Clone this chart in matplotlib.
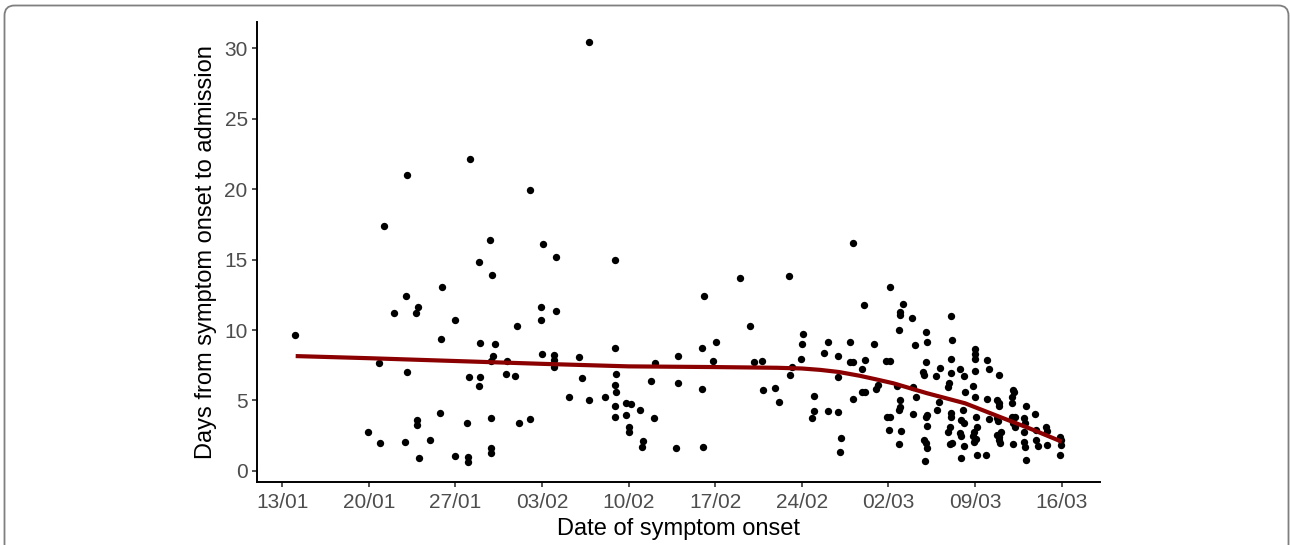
import matplotlib
matplotlib.use('Agg')
import matplotlib.pyplot as plt
from matplotlib.patches import FancyBboxPatch

plt.rcParams['font.family'] = ['Liberation Sans', 'DejaVu Sans']

# days since 13/01 (jittered onset) and days from onset to admission
onset_day = [
    24.8, 10.1, 15.2, 20.0, 8.2, 16.8, 21.1, 22.1, 15.9, 17.0, 26.9,
    1.08, 12.96, 10.02, 9.03, 11.02, 10.86, 14.0, 12.85, 16.0, 17.2, 17.08,
    16.9, 18.16, 19.02, 20.94, 20.94, 22.13, 20.97, 21.96, 21.96, 22.0, 23.97,
    24.2, 26.9, 27.0, 26.9, 27.0, 26.9, 26.9, 27.8, 28.2, 27.8, 28.0, 28.0,
    26.1, 24.84, 23.18, 7.81, 10.12, 15.09, 16.0, 15.9, 18.1, 18.8, 6.93,
    7.9, 9.92, 10.9, 10.94, 11.08, 11.97, 12.8, 13.96, 14.93, 15.0, 15.0,
    16.92, 16.92, 16.92, 19.16, 20.07,
    46.16, 37.0, 40.93,
    34.12, 31.98, 33.9, 35.03, 30.1, 34.84, 29.8, 31.96, 33.95, 28.92, 30.07,
    29.13, 29.08, 31.82, 34.03, 38.15, 38.82, 37.8, 38.9, 39.82, 40.14, 41.08,
    41.17, 41.95, 42.1, 42.05, 43.0, 42.97, 42.81, 43.83, 44.15, 44.96, 44.96,
    44.1, 44.93, 45.13, 45.1, 45.88, 45.88, 46.15, 46.15,
    49.16, 47.0, 50.18, 49.9, 49.9, 50.94, 54.03, 49.86, 52.07, 52.15, 51.15,
    54.14, 47.87, 47.09, 46.9, 48.84, 49.16, 52.07, 54.09, 53.15, 51.8, 51.9,
    52.82, 54.76, 55.11, 54.09, 53.9, 53.8, 46.9, 47.1, 48.16, 48.03, 49.7,
    50.99, 51.2, 49.9, 49.9, 49.84, 48.9, 49.16, 49.05, 50.05, 49.86, 50.99,
    52.0, 52.15, 52.15, 51.9, 52.07, 52.15, 51.96, 53.07, 52.93, 54.09, 54.09,
    55.03, 54.9, 55.08, 53.95, 53.8, 54.76, 54.9, 53.95, 54.17, 55.11, 54.9,
    55.16,
    55.97, 55.97, 55.97, 57.0, 57.1, 55.97, 57.91, 55.84, 55.97, 57.0, 59.07,
    59.15, 59.0, 58.95, 57.8, 57.97, 57.94, 60.15, 60.88, 56.1, 56.16, 57.13,
    57.8, 57.86, 59.0, 59.2, 59.2, 59.1, 59.95, 60.0, 59.95, 60.96, 60.96,
    61.77, 61.85, 61.09, 61.85, 62.9, 62.97, 62.92, 62.84, 60.09, 55.9, 55.84,
    55.9, 56.1, 56.2, 56.9, 57.8, 57.9, 58.1, 57.95, 58.05, 59.07, 59.95, 60.07,
]
delay_days = [
    30.4, 21.0, 22.1, 19.9, 17.4, 16.4, 16.1, 15.2, 14.8, 13.9, 15.0,
    9.65, 13.03, 12.38, 11.23, 11.61, 11.18, 10.69, 9.36, 9.05, 9.0, 8.18,
    7.82, 7.8, 10.3, 11.65, 10.7, 11.37, 8.3, 8.22, 7.87, 7.35, 8.06,
    6.57, 8.75, 6.9, 6.1, 5.6, 4.59, 3.85, 4.84, 4.72, 3.95, 3.14, 2.77,
    5.25, 5.04, 5.25, 7.64, 7.04, 6.69, 6.69, 6.0, 6.9, 6.74, 2.77,
    1.96, 2.06, 3.64, 3.26, 0.9, 2.18, 4.14, 1.09, 3.39, 0.97, 0.66,
    3.76, 1.66, 1.26, 3.39, 3.67,
    16.2, 13.7, 13.8,
    12.38, 8.13, 8.74, 9.17, 7.68, 7.82, 6.38, 6.24, 5.79, 4.35, 3.78,
    2.15, 1.72, 1.61, 1.7, 7.7, 7.82, 10.25, 5.76, 5.88, 4.87, 6.78,
    7.37, 7.92, 9.73, 9.0, 5.34, 4.23, 3.76, 8.34, 9.14, 8.15, 6.68,
    4.23, 4.16, 2.36, 1.37, 9.14, 7.75, 7.75, 5.12,
    13.02, 11.79, 11.84, 11.29, 11.06, 10.82, 11.0, 10.01, 9.87, 9.14, 8.93,
    9.31, 9.02, 7.84, 7.2, 7.82, 7.82, 7.72, 7.94, 7.28, 7.02, 6.8,
    6.76, 7.21, 6.73, 6.92, 6.22, 5.98, 5.62, 5.62, 6.1, 5.79, 6.02,
    5.98, 5.27, 5.03, 4.51, 4.32, 3.8, 3.85, 2.91, 2.83, 1.89, 4.04,
    3.85, 3.97, 3.21, 2.2, 1.96, 1.65, 0.73, 4.89, 4.32, 4.09, 3.85,
    4.32, 3.61, 3.38, 3.14, 2.79, 2.67, 2.48, 1.91, 2.0, 1.79, 0.9,
    5.62,
    8.65, 8.29, 7.94, 7.87, 7.21, 7.11, 6.8, 6.02, 5.22, 5.08, 5.74,
    5.6, 5.22, 4.8, 5.03, 4.84, 4.61, 4.61, 4.04, 3.85, 3.14, 3.66,
    3.73, 3.54, 3.85, 3.8, 3.14, 3.38, 3.73, 3.42, 2.79, 2.91, 2.2,
    3.14, 2.86, 1.79, 1.84, 2.39, 2.2, 1.84, 1.13, 0.78, 2.79, 2.48,
    2.03, 2.25, 1.13, 1.13, 2.55, 2.39, 2.76, 2.2, 2.0, 1.89, 2.03, 1.72,
]

# smoothed trend
smooth_day = [1.1, 7, 14, 21, 28, 35, 40, 42, 43.5, 45, 46.7, 48, 49.4, 52.1, 55.2, 57.9, 60.6, 63.0]
smooth_fit = [8.15, 8.0, 7.8, 7.6, 7.42, 7.37, 7.32, 7.27, 7.17, 7.02, 6.75, 6.5, 6.22, 5.52, 4.8, 3.87, 2.95, 2.08]

tick_days = [0, 7, 14, 21, 28, 35, 42, 49, 56, 63]
tick_labels = ['13/01', '20/01', '27/01', '03/02', '10/02',
               '17/02', '24/02', '02/03', '09/03', '16/03']

fig = plt.figure(figsize=(12.9, 5.45), dpi=100)

# rounded panel border
bg = fig.add_axes([0, 0, 1, 1])
bg.set_xlim(0, 1290)
bg.set_ylim(545, 0)
bg.axis('off')
bg.add_patch(FancyBboxPatch((4.5, 5.5), 1284, 560, boxstyle='round,pad=0,rounding_size=10',
                            fill=False, edgecolor='#7f7f7f', linewidth=1.3))

ax = fig.add_axes([0.199, 0.1162, 0.6537, 0.8434])
ax.scatter(onset_day, delay_days, s=28, c='black', linewidths=0, zorder=2)
ax.plot(smooth_day, smooth_fit, color='#8B0000', lw=3, solid_capstyle='butt', zorder=3)

ax.set_xlim(-2.05, 66.1)
ax.set_ylim(-0.76, 31.85)
ax.set_xticks(tick_days)
ax.set_xticklabels(tick_labels)
ax.set_yticks([0, 5, 10, 15, 20, 25, 30])

for s in ['top', 'right']:
    ax.spines[s].set_visible(False)
for s in ['left', 'bottom']:
    ax.spines[s].set_linewidth(1.4)
    ax.spines[s].set_color('black')

ax.tick_params(length=3.5, width=1.2, color='#333333', labelsize=15,
               labelcolor='#4D4D4D', pad=3)
ax.tick_params(axis='x', pad=5)
ax.set_xlabel('Date of symptom onset', fontsize=17, labelpad=4)
ax.set_ylabel('Days from symptom onset to admission', fontsize=17, labelpad=5)

fig.savefig('out.png', dpi=100)
